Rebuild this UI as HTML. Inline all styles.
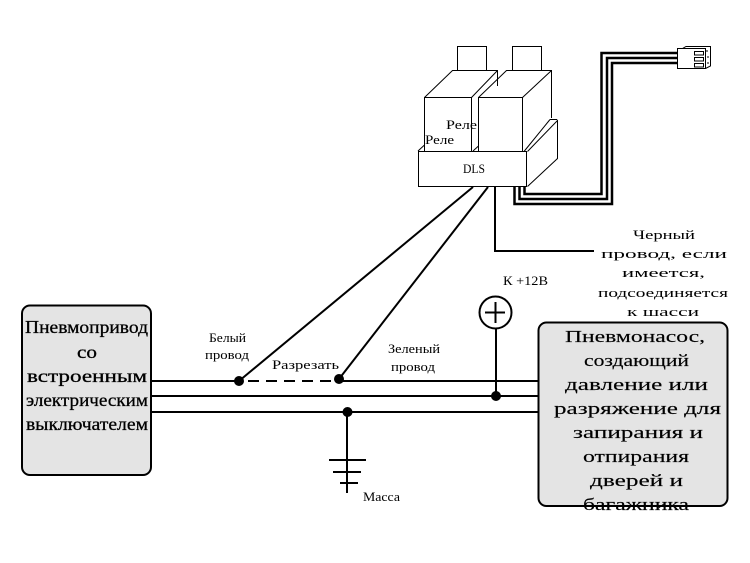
<!DOCTYPE html>
<html><head><meta charset="utf-8"><style>
html,body{margin:0;padding:0;background:#fff}
svg{display:block}
text{font-family:"Liberation Serif","DejaVu Serif",serif;fill:#000;text-anchor:start}
.s{font-size:13px}.m{font-size:18px;stroke:#000;stroke-width:.3px}.l{font-size:17px;stroke:#000;stroke-width:.15px}
</style></head><body>
<svg width="750" height="563" viewBox="0 0 750 563" xmlns="http://www.w3.org/2000/svg">
<rect width="750" height="563" fill="#fff"/>
<!-- boxes -->
<rect x="22" y="305.5" width="129" height="169.5" rx="8" fill="#e4e4e4" stroke="#000" stroke-width="2"/>
<rect x="538.5" y="322.5" width="189" height="183.5" rx="8" fill="#e4e4e4" stroke="#000" stroke-width="2"/>
<!-- relays -->
<g fill="none" stroke="#000" stroke-width="1">
<rect x="457.5" y="46.5" width="29" height="24" fill="#fff"/>
<rect x="512.5" y="46.5" width="29" height="24" fill="#fff"/>
<path d="M424.5 97.5L452.5 70.5H497.5V86M497.5 70.5L471.5 97.5"/>
<rect x="424.5" y="97.5" width="47" height="54"/>
<path d="M478.5 97.5L506.5 70.5H551.5V118M551.5 70.5L522.5 97.5"/>
<rect x="478.5" y="97.5" width="44" height="54"/>
<path d="M418 151L424.5 145M473 151L478.5 146"/>
<path d="M524 151.5L550 119.5M527.5 151.5L557.5 120.5V158.5L527.5 186.5M550 119.5H557"/>
<rect x="418.5" y="151.5" width="108" height="35" fill="#fff"/>
</g>
<!-- harness -->
<g fill="none" stroke="#000" stroke-width="2.5">
<path d="M514.5 187V204H612V63H677"/>
<path d="M519.5 187V199H607V58H677"/>
<path d="M524.5 187V194H601.5V53H677"/>
</g>
<!-- connector -->
<g fill="#fff" stroke="#000" stroke-width="1">
<path d="M682.5 48.5L686 46.5H710.5V66L705.5 68.5"/>
<rect x="677.5" y="48.5" width="28" height="20"/>
<rect x="694.5" y="51.5" width="9" height="3.5"/>
<rect x="694.5" y="57.5" width="9" height="3.5"/>
<rect x="694.5" y="63.5" width="9" height="3.5"/>
<path d="M707 50v2M708 56v2M708 62v2" fill="none"/>
</g>
<!-- wires -->
<g fill="none" stroke="#000" stroke-width="2">
<path d="M239 381L473 187"/>
<path d="M339 379L488 187"/>
<path d="M495 187V251H594"/>
<path d="M151 381H239"/>
<path d="M248 381H339" stroke-dasharray="11 7"/>
<path d="M339 381H538"/>
<path d="M151 396H538"/>
<path d="M151 412H538"/>
<path d="M496 328V396"/>
<path d="M347 412V493"/>
<path d="M329 460H366M333 472H361M340 483H358"/>
<circle cx="495.5" cy="312.5" r="16" fill="#fff"/>
<path d="M485 312.5H505M495.5 302V323"/>
</g>
<g fill="#000">
<circle cx="239" cy="381" r="5"/>
<circle cx="339" cy="379" r="5"/>
<circle cx="496" cy="396" r="5"/>
<circle cx="347.5" cy="412" r="5"/>
</g>
<!-- small labels -->
<text class="s" x="463" y="173" textLength="22" lengthAdjust="spacingAndGlyphs">DLS</text>
<text class="s" x="446" y="129" textLength="31" lengthAdjust="spacingAndGlyphs">Реле</text>
<text class="s" x="425" y="144" textLength="29" lengthAdjust="spacingAndGlyphs">Реле</text>
<text class="s" x="503" y="285" textLength="45" lengthAdjust="spacingAndGlyphs">К +12В</text>
<text class="s" x="209" y="342" textLength="37" lengthAdjust="spacingAndGlyphs">Белый</text>
<text class="s" x="205" y="359" textLength="44" lengthAdjust="spacingAndGlyphs">провод</text>
<text class="s" x="272" y="369" textLength="67" lengthAdjust="spacingAndGlyphs">Разрезать</text>
<text class="s" x="388" y="353" textLength="52" lengthAdjust="spacingAndGlyphs">Зеленый</text>
<text class="s" x="391" y="371" textLength="44" lengthAdjust="spacingAndGlyphs">провод</text>
<text class="s" x="363" y="501" textLength="37" lengthAdjust="spacingAndGlyphs">Масса</text>
<text class="s" x="633" y="239" textLength="62" lengthAdjust="spacingAndGlyphs">Черный</text>
<text class="s" x="601" y="258" textLength="126" lengthAdjust="spacingAndGlyphs">провод,  если</text>
<text class="s" x="622" y="277" textLength="83" lengthAdjust="spacingAndGlyphs">имеется,</text>
<text class="s" x="598" y="297" textLength="130" lengthAdjust="spacingAndGlyphs">подсоединяется</text>
<text class="s" x="627" y="316" textLength="72" lengthAdjust="spacingAndGlyphs">к  шасси</text>
<!-- left box text -->
<text class="m" x="25" y="333" textLength="123" lengthAdjust="spacingAndGlyphs">Пневмопривод</text>
<text class="m" x="77" y="358" textLength="20" lengthAdjust="spacingAndGlyphs">со</text>
<text class="m" x="27" y="382" textLength="120" lengthAdjust="spacingAndGlyphs">встроенным</text>
<text class="m" x="26" y="406" textLength="122" lengthAdjust="spacingAndGlyphs">электрическим</text>
<text class="m" x="26" y="430" textLength="122" lengthAdjust="spacingAndGlyphs">выключателем</text>
<!-- right box text -->
<text class="l" x="565" y="342" textLength="140" lengthAdjust="spacingAndGlyphs">Пневмонасос,</text>
<text class="l" x="584" y="366" textLength="105" lengthAdjust="spacingAndGlyphs">создающий</text>
<text class="l" x="565" y="390" textLength="143" lengthAdjust="spacingAndGlyphs">давление или</text>
<text class="l" x="554" y="414" textLength="167" lengthAdjust="spacingAndGlyphs">разряжение для</text>
<text class="l" x="573" y="438" textLength="130" lengthAdjust="spacingAndGlyphs">запирания и</text>
<text class="l" x="583" y="462" textLength="106" lengthAdjust="spacingAndGlyphs">отпирания</text>
<text class="l" x="590" y="486" textLength="93" lengthAdjust="spacingAndGlyphs">дверей и</text>
<text class="l" x="583" y="510" textLength="106" lengthAdjust="spacingAndGlyphs">багажника</text>
</svg>
</body></html>
